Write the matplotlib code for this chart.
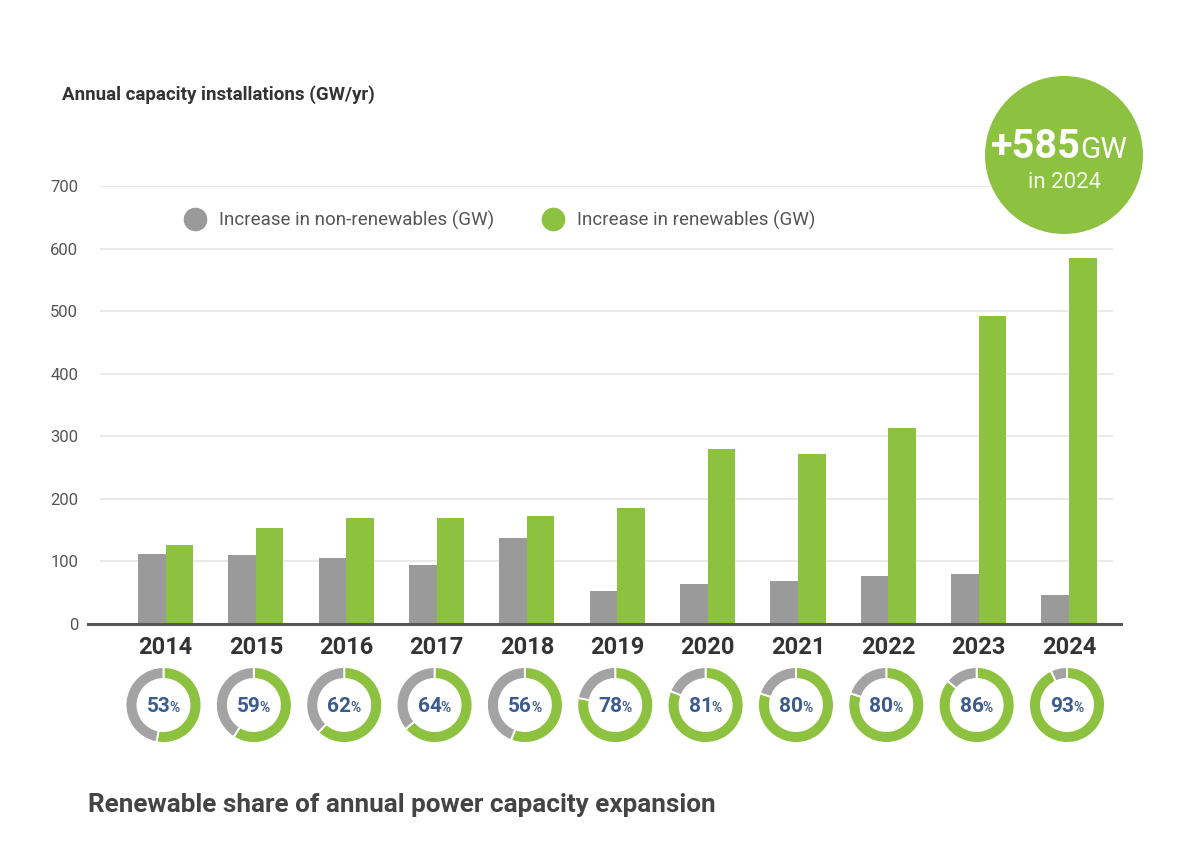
import matplotlib.pyplot as plt
from matplotlib.lines import Line2D
from matplotlib.patches import Circle

plt.rcParams["font.family"] = ["Roboto", "DejaVu Sans"]

YEARS = ["2014", "2015", "2016", "2017", "2018", "2019", "2020", "2021", "2022", "2023", "2024"]
NON_RENEWABLES = [112, 110, 106, 94, 137, 52, 64, 68, 76, 80, 47]
RENEWABLES = [127, 153, 170, 170, 172, 186, 279, 272, 313, 492, 585]
RENEWABLE_SHARE = [53, 59, 62, 64, 56, 78, 81, 80, 80, 86, 93]
Y_TICKS = [0, 100, 200, 300, 400, 500, 600, 700]

GREEN = "#8cc23f"
GRAY = "#9a9a9a"
DONUT_GRAY = "#a3a3a3"
TEXT_DARK = "#333333"
TEXT_MID = "#555555"
PCT_BLUE = "#3b5c8c"

W, H = 1200, 843
fig = plt.figure(figsize=(W / 100, H / 100), dpi=100)
fig.patch.set_facecolor("white")


def fx(px):
    return px / W


def fy(py):
    # pixel measured from the top -> figure fraction from the bottom
    return 1 - py / H


# main bar chart, placed in pixel terms
ax_left, ax_right, ax_top, ax_bottom = 88, 1121, 186, 624
ax = fig.add_axes([fx(ax_left), fy(ax_bottom), fx(ax_right - ax_left), (ax_bottom - ax_top) / H])

spacing = 90.35
first_center = 165.5
x = list(range(len(YEARS)))


def px_to_x(px):
    return (px - first_center) / spacing


ax.set_xlim(px_to_x(ax_left), px_to_x(ax_right))
ax.set_ylim(0, 700)

# gridlines start a little right of the baseline, as in the original
ax.hlines(Y_TICKS[1:], px_to_x(100), px_to_x(1113), color="#e4e4e4", linewidth=1.1, zorder=0)

bw = 0.305
ax.bar([i - bw / 2 for i in x], NON_RENEWABLES, width=bw, color=GRAY, zorder=3)
ax.bar([i + bw / 2 for i in x], RENEWABLES, width=bw, color=GREEN, zorder=3)

ax.set_yticks(Y_TICKS)
for side in ("left", "right", "top"):
    ax.spines[side].set_visible(False)
ax.spines["bottom"].set_color("#555555")
ax.spines["bottom"].set_linewidth(2.2)
ax.spines["bottom"].set_zorder(4)
ax.tick_params(axis="y", length=0, pad=7, labelsize=12, labelcolor=TEXT_MID)
ax.set_xticks(x, YEARS)
ax.tick_params(axis="x", length=0, pad=9, labelsize=17, labelcolor=TEXT_DARK)
for lab in ax.get_xticklabels():
    lab.set_fontweight("bold")

handles = [
    Line2D([], [], marker="o", linestyle="none", markersize=16, color=GRAY),
    Line2D([], [], marker="o", linestyle="none", markersize=16, color=GREEN),
]
ax.legend(handles, ["Increase in non-renewables (GW)", "Increase in renewables (GW)"],
          loc="center left", bbox_to_anchor=(fx(186), fy(220)), bbox_transform=fig.transFigure,
          ncol=2, frameon=False, fontsize=13.5, labelcolor=TEXT_MID, handlelength=1.0,
          handletextpad=0.77, columnspacing=2.65, borderpad=0, borderaxespad=0)

fig.text(fx(62), fy(95), "Annual capacity installations (GW/yr)", fontsize=13.5, fontweight="bold",
         color=TEXT_DARK, ha="left", va="center")
fig.text(fx(88), fy(805), "Renewable share of annual power capacity expansion", fontsize=18.8,
         fontweight="bold", color="#444444", ha="left", va="center")

# overlay in pixel coordinates (y up) for donuts and the highlight circle
ov = fig.add_axes([0, 0, 1, 1], zorder=5)
donut_y = H - 705
r_out, ring = 38, 12
for i, share in enumerate(RENEWABLE_SHARE):
    cx = first_center - 2 + i * spacing
    ov.pie([share, 100 - share], colors=[GREEN, DONUT_GRAY], startangle=90, counterclock=False,
           center=(cx, donut_y), radius=r_out, frame=True,
           wedgeprops=dict(width=ring, edgecolor="white", linewidth=1.4))
    ov.text(cx + 7, H - 712, f"{share}", fontsize=15, fontweight="bold", color=PCT_BLUE,
            ha="right", va="baseline")
    ov.text(cx + 6, H - 712, "%", fontsize=10, fontweight="bold", color=PCT_BLUE,
            ha="left", va="baseline")

cc_x, cc_y = 1064, H - 155
ov.add_patch(Circle((cc_x, cc_y), 78.3, color=GREEN, zorder=6))
ov.text(1081, H - 158, f"+{RENEWABLES[-1]}", fontsize=28.5, fontweight="bold", color="white",
        ha="right", va="baseline", zorder=7)
ov.text(1080, H - 158, "GW", fontsize=21.5, color="white", ha="left", va="baseline", zorder=7)
ov.text(cc_x + 1, H - 188, f"in {YEARS[-1]}", fontsize=16, color="#f4f9ec", ha="center",
        va="baseline", zorder=7)

ov.set_xlim(0, W)
ov.set_ylim(0, H)
ov.set_aspect("auto")
ov.axis("off")

fig.savefig("out.png", dpi=100, facecolor="white")
